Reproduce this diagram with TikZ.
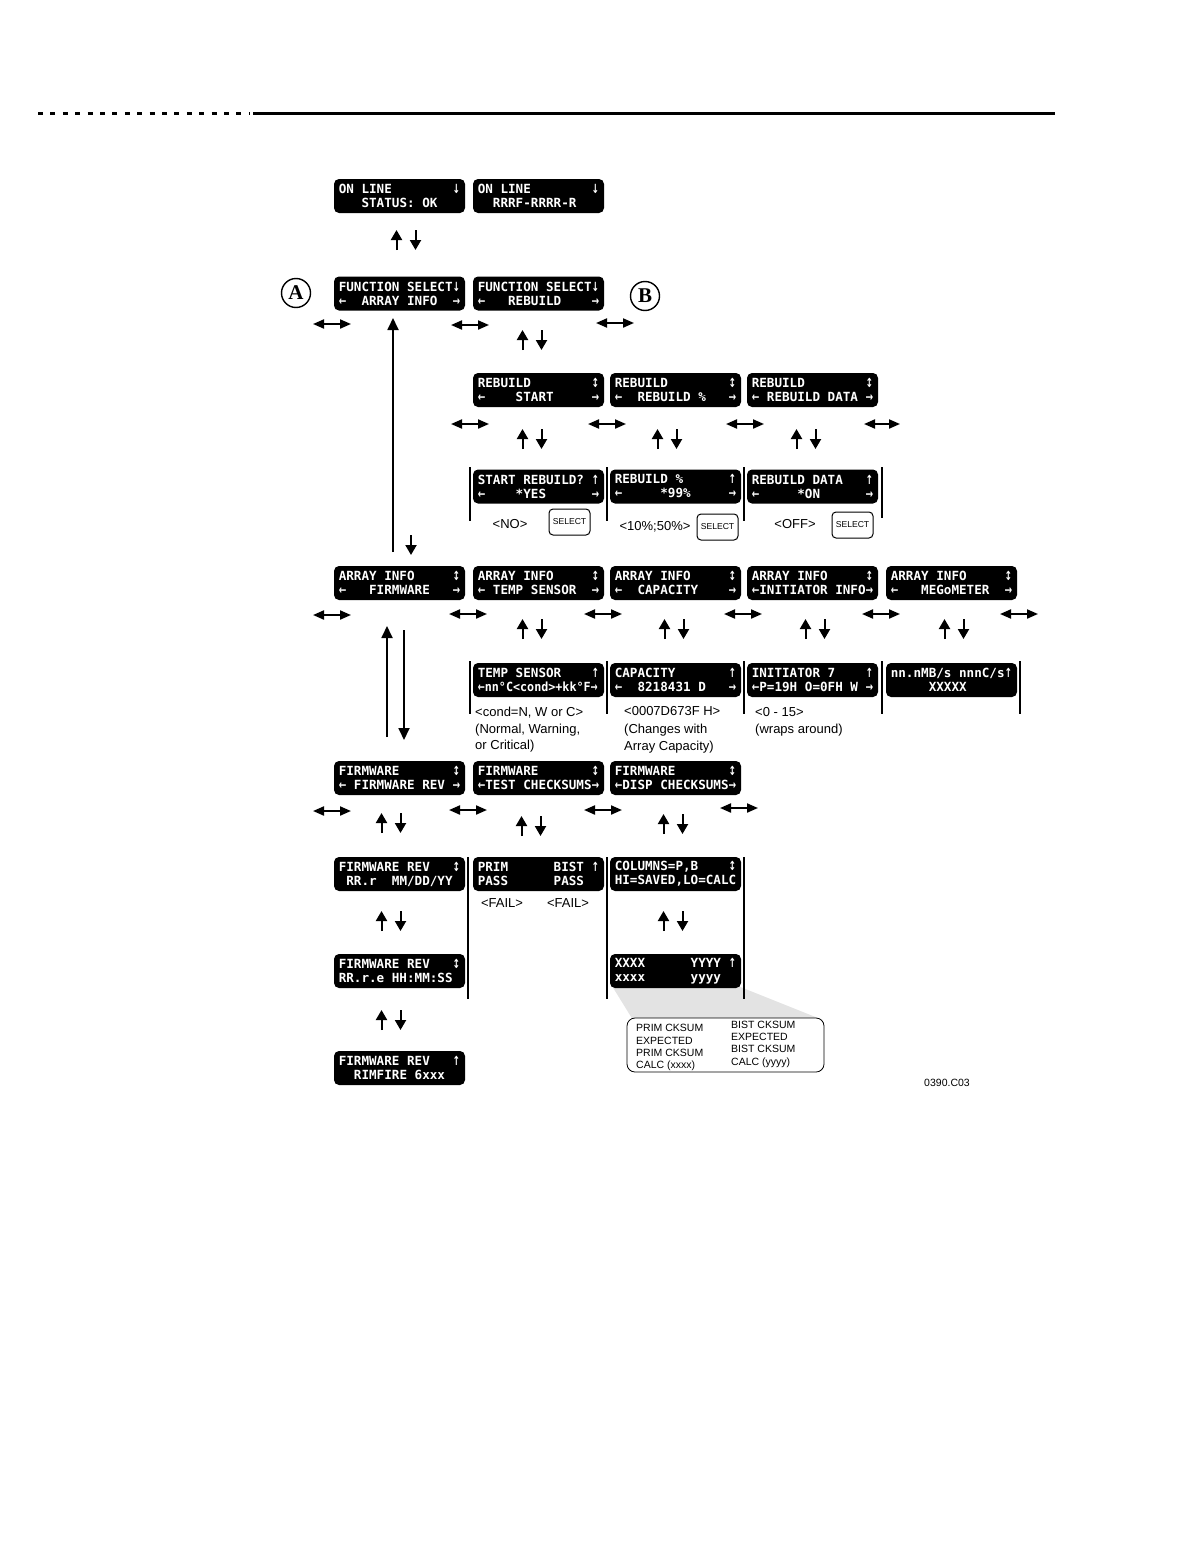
\documentclass[tikz,border=0pt]{standalone}
\usepackage{fontspec}
\usepackage{graphicx}
\setmainfont{Liberation Sans}
\newfontfamily\lcdfont{DejaVu Sans Mono}
\newfontfamily\arrfont{DejaVu Sans}
\newfontfamily\serifbold{Liberation Serif}
\usetikzlibrary{arrows.meta}
\newcommand\sqz[1]{\scalebox{0.93}[1]{#1}}
\newcommand\cell[1]{\makebox[0.602em][c]{\scalebox{0.72}[1]{\arrfont\bfseries #1}}}
\newcommand\la{\cell{←}}
\newcommand\ra{\cell{→}}
\newcommand\ua{\cell{↑}}
\newcommand\da{\cell{↓}}
\newcommand\uda{\cell{↕}}
\begin{document}
\begin{tikzpicture}[x=1pt,y=-1pt,
  lcd/.style={fill=black, rounded corners=5pt, text=white, minimum width=131pt, minimum height=34pt,
     inner sep=0pt, align=left, font=\lcdfont\bfseries\fontsize{12.6}{14}\selectfont},
  dbl/.style={line width=2pt, {Triangle[length=11pt,width=9pt]}-{Triangle[length=11pt,width=9pt]}},
  varrow/.style={line width=2pt, -{Triangle[length=10pt,width=11pt]}},
  longarrow/.style={line width=1.8pt, -{Triangle[length=12pt,width=11pt]}},
  bar/.style={line width=2.4pt},
  lbl/.style={inner sep=0pt, font=\fontsize{13}{15}\selectfont},
  small/.style={inner sep=0pt, font=\fontsize{10.5}{12}\selectfont},
  selbtn/.style={draw, line width=1pt, rounded corners=4pt, minimum width=41pt, minimum height=26pt, inner sep=0pt,
     font=\fontsize{8.6}{9}\selectfont},
  circ/.style={draw, circle, line width=1.4pt, minimum size=29pt, inner sep=0pt,
     font=\serifbold\bfseries\fontsize{21}{21}\selectfont}
]
\newcommand\hdbl[3]{\draw[dbl] (#1,#3) -- (#2,#3);}
\newcommand\updn[2]{\draw[varrow] (#1-9.5,#2+10) -- (#1-9.5,#2-10); \draw[varrow] (#1+9.5,#2-10) -- (#1+9.5,#2+10);}
\useasboundingbox (0,0) rectangle (1192,1568);

% header rule
\draw[line width=3pt, dash pattern=on 5pt off 7.4pt] (38,114) -- (250,114);
\draw[line width=3pt] (253,114) -- (1055,114);

% row 1
\node[lcd] (ol1) at (399.5,196) {ON~LINE~~~~~~~~\da\\~~~STATUS:~OK};
\node[lcd] (ol2) at (538.5,196) {ON~LINE~~~~~~~~\da\\~~RRRF-RRRR-R};
\updn{406}{240}

% row 2
\node[lcd] (fs1) at (399.5,293.5) {FUNCTION~SELECT\da\\\la~~ARRAY~INFO~~\ra};
\node[lcd] (fs2) at (538.5,293.5) {FUNCTION~SELECT\da\\\la~~~REBUILD~~~~\ra};
\node[circ] (ca) at (296,293) {A};
\node[circ] (cb) at (645,296) {B};
\hdbl{313}{351}{324}
\hdbl{451}{489}{325}
\hdbl{596}{634}{323}
\updn{532}{340}

% row 3
\node[lcd] (rb1) at (538.5,390) {REBUILD~~~~~~~~\uda\\\la~~~~START~~~~~\ra};
\node[lcd] (rb2) at (675.5,390) {REBUILD~~~~~~~~\uda\\\la~~REBUILD~\%~~~\ra};
\node[lcd] (rb3) at (812.5,390) {REBUILD~~~~~~~~\uda\\\la~REBUILD~DATA~\ra};
\hdbl{451}{489}{424}
\hdbl{588}{626}{424}
\hdbl{726}{764}{424}
\hdbl{864}{900}{424}
\updn{532}{439}
\updn{667}{439}
\updn{806}{439}

% row 4
\node[lcd] (sr1) at (538.5,486.5) {START~REBUILD?~\ua\\\la~~~~*YES~~~~~~\ra};
\node[lcd] (sr2) at (675.5,486.5) {REBUILD~\%~~~~~~\ua\\\la~~~~~*99\%~~~~~\ra};
\node[lcd] (sr3) at (812.5,486.5) {REBUILD~DATA~~~\ua\\\la~~~~~*ON~~~~~~\ra};
\draw[bar] (470,467) -- (470,521);
\draw[bar] (607,467) -- (607,521);
\draw[bar] (744,467) -- (744,521);
\draw[bar] (882,467) -- (882,518);
\node[lbl, anchor=base] (no) at (510,528) {<NO>};
\node[selbtn] (sel1) at (569.5,522) {SELECT};
\node[lbl, anchor=base] (pct) at (655,530) {<10\%;50\%>};
\node[selbtn] (sel2) at (717.5,527) {SELECT};
\node[lbl, anchor=base] (off) at (795,528) {<OFF>};
\node[selbtn] (sel3) at (852.5,525) {SELECT};

% long arrows
\coordinate (la1) at (393,552);
\coordinate (la2) at (411,535);
\coordinate (lb1) at (387,737);
\coordinate (lb2) at (404,630);
\draw[longarrow] (la1) -- (393,318);
\draw[varrow] (la2) -- (411,555);

% row 5
\node[lcd] (ai1) at (399.5,583) {ARRAY~INFO~~~~~\uda\\\la~~~FIRMWARE~~~\ra};
\node[lcd] (ai2) at (538.5,583) {ARRAY~INFO~~~~~\uda\\\la~TEMP~SENSOR~~\ra};
\node[lcd] (ai3) at (675.5,583) {ARRAY~INFO~~~~~\uda\\\la~~CAPACITY~~~~\ra};
\node[lcd] (ai4) at (812.5,583) {ARRAY~INFO~~~~~\uda\\\la INITIATOR~INFO\ra};
\node[lcd] (ai5) at (951.5,583) {ARRAY~INFO~~~~~\uda\\\la~~~MEGoMETER~~\ra};
\hdbl{313}{351}{615}
\hdbl{449}{487}{614}
\hdbl{584}{622}{614}
\hdbl{724}{762}{614}
\hdbl{862}{900}{614}
\hdbl{1000}{1038}{614}
\updn{532}{629}
\updn{674}{629}
\updn{815}{629}
\updn{954}{629}
\draw[longarrow] (lb1) -- (387,626);
\draw[longarrow] (lb2) -- (404,740);

% row 6
\node[lcd] (ts) at (538.5,680) {TEMP~SENSOR~~~~\ua\\\sqz{\la nn°C<cond>+kk°F\ra}};
\node[lcd] (cap) at (675.5,680) {CAPACITY~~~~~~~\ua\\\la~~8218431~D~~~\ra};
\node[lcd] (ini) at (812.5,680) {INITIATOR~7~~~~\ua\\\la P=19H~O=0FH~W~\ra};
\node[lcd] (meg) at (951.5,680) {nn.nMB/s~nnnC/s\ua\\~~~~~XXXXX};
\draw[bar] (470,661) -- (470,714);
\draw[bar] (607,661) -- (607,714);
\draw[bar] (744,661) -- (744,714);
\draw[bar] (882,661) -- (882,714);
\draw[bar] (1020,661) -- (1020,714);
\node[lbl, anchor=base west] (c1) at (475,716) {<cond=N, W or C>};
\node[lbl, anchor=base west] (c2) at (475,733) {(Normal, Warning,};
\node[lbl, anchor=base west] (c3) at (475,749) {or Critical)};
\node[lbl, anchor=base west] (d1) at (624,715) {<0007D673F H>};
\node[lbl, anchor=base west] (d2) at (624,733) {(Changes with};
\node[lbl, anchor=base west] (d3) at (624,750) {Array Capacity)};
\node[lbl, anchor=base west] (e1) at (755,716) {<0 - 15>};
\node[lbl, anchor=base west] (e2) at (755,733) {(wraps around)};

% row 7
\node[lcd] (fw1) at (399.5,778) {FIRMWARE~~~~~~~\uda\\\la~FIRMWARE~REV~\ra};
\node[lcd] (fw2) at (538.5,778) {FIRMWARE~~~~~~~\uda\\\la TEST~CHECKSUMS\ra};
\node[lcd] (fw3) at (675.5,778) {FIRMWARE~~~~~~~\uda\\\la DISP~CHECKSUMS\ra};
\hdbl{313}{351}{811}
\hdbl{449}{487}{810}
\hdbl{584}{622}{810}
\hdbl{720}{758}{808}
\updn{391}{823}
\updn{531}{826}
\updn{673}{824}

% row 8
\node[lcd] (fr1) at (399.5,874) {FIRMWARE~REV~~~\uda\\~RR.r~~MM/DD/YY};
\node[lcd] (pb) at (538.5,874) {PRIM~~~~~~BIST~\ua\\PASS~~~~~~PASS};
\node[lcd] (col) at (675.5,874) {COLUMNS=P,B~~~~\uda\\HI=SAVED,LO=CALC};
\draw[bar] (468,857) -- (468,999);
\draw[bar] (607,857) -- (607,999);
\draw[bar] (744,857) -- (744,999);
\node[lbl, anchor=base] (f1) at (502,907) {<FAIL>};
\node[lbl, anchor=base] (f2) at (568,907) {<FAIL>};
\updn{391}{921}
\updn{673}{921}

% row 9 with callout wedge
\fill[gray!22] (612,986) -- (738,986) -- (823,1020) -- (633,1020) -- cycle;
\draw[bar] (744,960) -- (744,999);
\node[lcd] (fr2) at (399.5,971) {FIRMWARE~REV~~~\uda\\RR.r.e~HH:MM:SS};
\node[lcd] (xy) at (675.5,971) {XXXX~~~~~~YYYY~\ua\\xxxx~~~~~~yyyy};
\updn{391}{1020}

% row 10
\node[lcd] (fr3) at (399.5,1068) {FIRMWARE~REV~~~\ua\\~~RIMFIRE~6xxx};

% callout
\draw[line width=0.8pt, fill=white, rounded corners=8pt] (627,1018) rectangle (824,1072);
\node[small, anchor=base west] (p1) at (636,1031) {PRIM CKSUM};
\node[small, anchor=base west] (p2) at (636,1044) {EXPECTED};
\node[small, anchor=base west] (p3) at (636,1056) {PRIM CKSUM};
\node[small, anchor=base west] (p4) at (636,1068) {CALC (xxxx)};
\node[small, anchor=base west] (b1) at (731,1028) {BIST CKSUM};
\node[small, anchor=base west] (b2) at (731,1040) {EXPECTED};
\node[small, anchor=base west] (b3) at (731,1052) {BIST CKSUM};
\node[small, anchor=base west] (b4) at (731,1065) {CALC (yyyy)};

\node[small, anchor=base] (fig) at (947,1086) {0390.C03};
\end{tikzpicture}
\end{document}
